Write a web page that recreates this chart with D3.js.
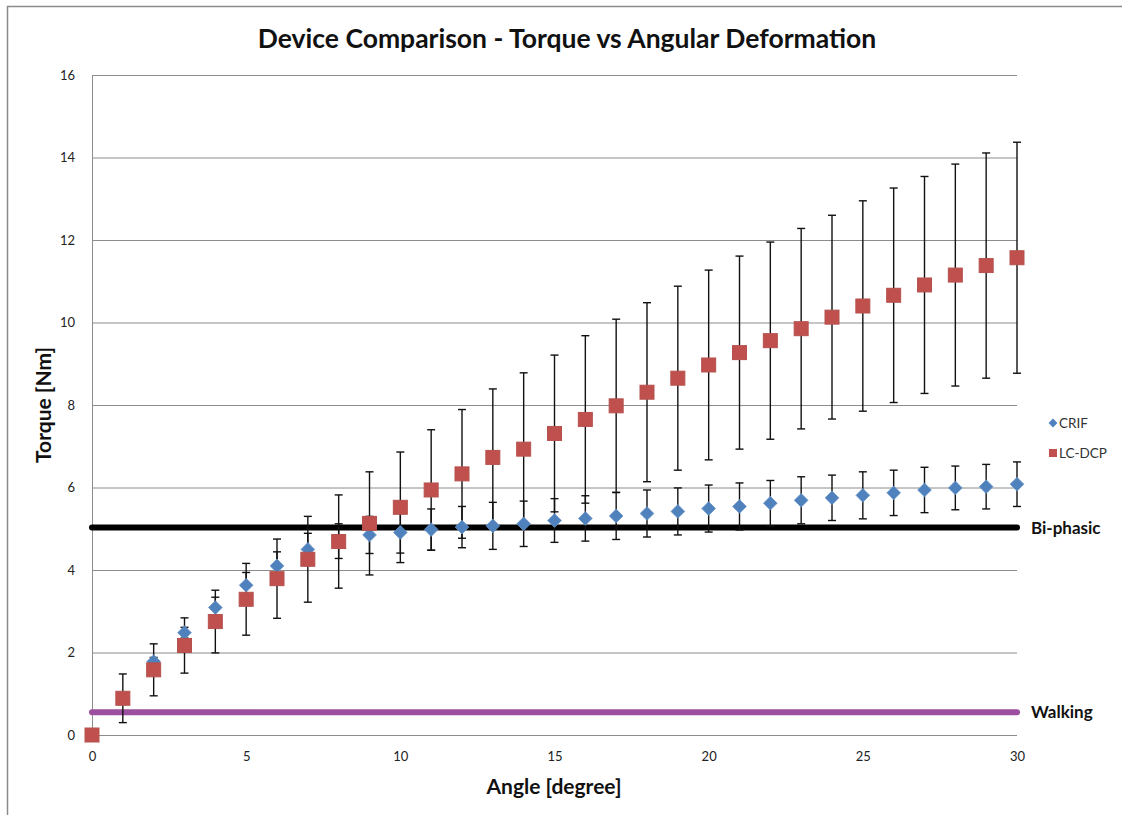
<!DOCTYPE html>
<html>
<head>
<meta charset="utf-8">
<script src="https://cdn.jsdelivr.net/npm/d3@7"></script>
<style>
  body { margin:0; background:#fff; }
  svg text { font-family: Lato, "Open Sans", sans-serif; }
</style>
</head>
<body>
<svg id="chart" width="1122" height="815"></svg>
<script>
// angulos 0..30
var angles = d3.range(0, 31);

var crif    = [0, 0.9, 1.78, 2.48, 3.09, 3.63, 4.10, 4.50, 4.70, 4.85, 4.91, 4.98, 5.04, 5.07, 5.12, 5.20,
               5.25, 5.31, 5.37, 5.42, 5.49, 5.54, 5.62, 5.69, 5.75, 5.81, 5.87, 5.94, 5.99, 6.02, 6.08];
var crifErr = [0, 0.1, 0.1, 0.13, 0.25, 0.31, 0.34, 0.39, 0.42, 0.45, 0.5, 0.5, 0.5, 0.57, 0.55, 0.53,
               0.55, 0.57, 0.57, 0.57, 0.57, 0.57, 0.55, 0.57, 0.55, 0.57, 0.55, 0.55, 0.53, 0.54, 0.54];

var lcdcp    = [0, 0.89, 1.58, 2.17, 2.75, 3.29, 3.79, 4.26, 4.69, 5.13, 5.52, 5.94, 6.33, 6.73, 6.93, 7.31,
                7.65, 7.98, 8.31, 8.65, 8.97, 9.27, 9.56, 9.85, 10.13, 10.40, 10.66, 10.91, 11.15, 11.38, 11.57];
var lcdcpErr = [0, 0.59, 0.63, 0.67, 0.76, 0.87, 0.96, 1.04, 1.13, 1.25, 1.34, 1.46, 1.56, 1.66, 1.85, 1.9,
                2.03, 2.1, 2.17, 2.23, 2.3, 2.34, 2.39, 2.43, 2.47, 2.55, 2.6, 2.63, 2.69, 2.73, 2.8];

var refNames  = ["Bi-phasic", "Walking"];
var refValues = [5.03, 0.55];
var refColors = ["#000000", "#9b4f9e"];

var yTicks = [0, 2, 4, 6, 8, 10, 12, 14, 16];
var xTicks = [0, 5, 10, 15, 20, 25, 30];

var svg = d3.select("#chart");
var mLeft = 92, mRight = 1017, mTop = 75, mBottom = 735;

var x = d3.scaleLinear().domain([0, 30]).range([mLeft, mRight]);
var y = d3.scaleLinear().domain([0, 16]).range([mBottom, mTop]);

// marco exterior
svg.append("path").attr("d", "M7.5,815 L7.5,6.5 L1122,6.5")
   .attr("fill", "none").attr("stroke", "#8a8a8a").attr("stroke-width", 1.5);

// rejilla
svg.append("g").selectAll("line").data(yTicks).enter().append("line")
   .attr("x1", mLeft).attr("x2", mRight)
   .attr("y1", function(d){ return y(d) + 0.5; }).attr("y2", function(d){ return y(d) + 0.5; })
   .attr("stroke", "#8c8c8c").attr("stroke-width", 1);

svg.append("line").attr("x1", mLeft + 0.5).attr("x2", mLeft + 0.5).attr("y1", mTop).attr("y2", mBottom)
   .attr("stroke", "#8c8c8c");

// ejes sin dominio ni ticks, solo etiquetas
var yAxis = svg.append("g").attr("transform", "translate(" + (mLeft - 14) + ",0)")
   .call(d3.axisLeft(y).tickValues(yTicks).tickSize(0).tickFormat(d3.format("d")));
yAxis.select(".domain").remove();
yAxis.selectAll("text").attr("font-size", 13).attr("fill", "#222").attr("font-family", "Lato, sans-serif");

var xAxis = svg.append("g").attr("transform", "translate(0," + (mBottom + 14) + ")")
   .call(d3.axisBottom(x).tickValues(xTicks).tickSize(0).tickFormat(d3.format("d")));
xAxis.select(".domain").remove();
xAxis.selectAll("text").attr("font-size", 13).attr("fill", "#222").attr("font-family", "Lato, sans-serif");

// lineas de referencia
refValues.forEach(function(v, i){
  svg.append("line").attr("x1", x(0)).attr("x2", x(30)).attr("y1", y(v)).attr("y2", y(v))
     .attr("stroke", refColors[i]).attr("stroke-width", 6).attr("stroke-linecap", "round");
  svg.append("text").attr("x", x(30) + 14).attr("y", y(v) + 6)
     .attr("font-size", 17).attr("font-weight", "bold").attr("fill", "#111").text(refNames[i]);
});

// barras de error
function errorBars(vals, errs){
  var g = svg.append("g").attr("stroke", "#111").attr("stroke-width", 1.4);
  angles.forEach(function(a, i){
    if (!errs[i]) return;
    var cx = x(a), y1 = y(vals[i] + errs[i]), y2 = y(vals[i] - errs[i]);
    g.append("line").attr("x1", cx).attr("x2", cx).attr("y1", y1).attr("y2", y2);
    g.append("line").attr("x1", cx - 4).attr("x2", cx + 4).attr("y1", y1).attr("y2", y1);
    g.append("line").attr("x1", cx - 4).attr("x2", cx + 4).attr("y1", y2).attr("y2", y2);
  });
}
errorBars(lcdcp, lcdcpErr);
errorBars(crif, crifErr);

// marcadores
var diamond = d3.symbol().type(d3.symbolDiamond2).size(120);
svg.append("g").selectAll("path").data(angles).enter().append("path")
   .attr("d", diamond)
   .attr("transform", function(d, i){ return "translate(" + x(d) + "," + y(crif[i]) + ")"; })
   .attr("fill", "#4f81bd").attr("stroke", "#6a95c8").attr("stroke-width", 0.8);

svg.append("g").selectAll("rect").data(angles).enter().append("rect")
   .attr("x", function(d){ return x(d) - 7; })
   .attr("y", function(d, i){ return y(lcdcp[i]) - 7; })
   .attr("width", 14).attr("height", 14)
   .attr("fill", "#c0504d").attr("stroke", "#b5524f").attr("stroke-width", 1);

// leyenda
svg.append("path").attr("d", d3.symbol().type(d3.symbolDiamond2).size(50))
   .attr("transform", "translate(1053,423)").attr("fill", "#4f81bd");
svg.append("text").attr("x", 1059).attr("y", 428).attr("font-size", 13.5).attr("fill", "#333").text("CRIF");
svg.append("rect").attr("x", 1049).attr("y", 449).attr("width", 8).attr("height", 8).attr("fill", "#c0504d");
svg.append("text").attr("x", 1059).attr("y", 458).attr("font-size", 13.5).attr("fill", "#333").text("LC-DCP");

// titulos
svg.append("text").attr("x", 567).attr("y", 48).attr("text-anchor", "middle")
   .attr("font-size", 26.5).attr("font-weight", "bold").attr("fill", "#111")
   .text("Device Comparison - Torque vs Angular Deformation");

svg.append("text").attr("x", 554).attr("y", 794).attr("text-anchor", "middle")
   .attr("font-size", 21).attr("font-weight", "bold").attr("fill", "#111")
   .text("Angle [degree]");

svg.append("text").attr("transform", "translate(51,405) rotate(-90)").attr("text-anchor", "middle")
   .attr("font-size", 21).attr("font-weight", "bold").attr("fill", "#111")
   .text("Torque [Nm]");
</script>
</body>
</html>
